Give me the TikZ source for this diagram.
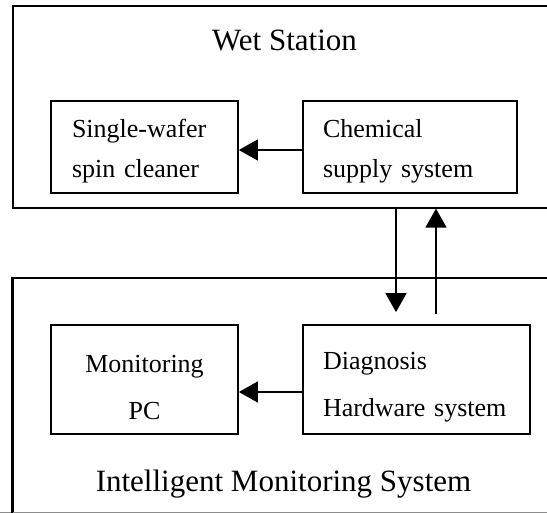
\documentclass[tikz,border=0pt]{standalone}
\usepackage{fontspec}
\setmainfont{Liberation Serif}
\usetikzlibrary{arrows.meta,calc}
\newcommand{\lowerby}[1]{\rule{0pt}{#1}}
\begin{document}
\begin{tikzpicture}[x=1pt,y=-1pt,
  outerbox/.style={draw,line width=1.6pt,rectangle,inner sep=0pt,anchor=north west},
  unitbox/.style={draw,line width=1.7pt,rectangle,inner sep=0pt,minimum height=#1},
  leftbox/.style={unitbox=92,align=left,inner xsep=21pt,font=\fontsize{26}{40}\selectfont},
  arr/.style={line width=1.4pt,-{Triangle[length=19pt,width=21pt]}},
  title/.style={font=\fontsize{31}{36}\selectfont,anchor=base,inner sep=0pt}]
\clip (0,0) rectangle (547,513);
\fill[white] (0,0) rectangle (547,513);
% outer frames
\node[outerbox,minimum width=560,minimum height=202] (wet) at (12,5) {};
\node[outerbox,minimum width=560,minimum height=260] (ims) at (12,277) {};
\draw[black!45,line width=1pt] (0,512) -- (547,512);
\draw[line width=1.6pt] (12,277) -- (12,513);
% titles
\node[title] (wettitle) at (284.5,51) {Wet Station};
\node[title] (imstitle) at (283.5,492) {Intelligent Monitoring System};
% inner boxes
\node[leftbox,minimum width=187,text width=145] (single) at (144.5,147) {\lowerby{27pt}Single-wafer\\spin cleaner};
\node[leftbox,minimum width=214,text width=174,inner xsep=20pt] (chem) at (410,147) {\lowerby{27pt}Chemical\\supply system};
\node[unitbox=109,minimum width=187,align=center,font=\fontsize{26}{47}\selectfont] (pc) at (144.5,379.5) {\lowerby{33pt}Monitoring\\PC};
\node[unitbox=109,minimum width=227,text width=187,align=left,inner xsep=20pt,font=\fontsize{26}{47}\selectfont] (diag) at (416.5,379.5) {\lowerby{33pt}Diagnosis\\Hardware system};
% connectors
\draw[arr] ($(chem.west)+(0,3)$) -- ($(single.east)+(0,3)$);
\draw[arr] ($(diag.west)+(0,12.5)$) -- ($(pc.east)+(0,12.5)$);
\coordinate (dn) at (396,0);
\coordinate (up) at (436,0);
\draw[arr,shorten >=12pt] (wet.south -| dn) -- (diag.north -| dn);
\draw[arr,shorten <=10pt] (diag.north -| up) -- (wet.south -| up);
\end{tikzpicture}
\end{document}
